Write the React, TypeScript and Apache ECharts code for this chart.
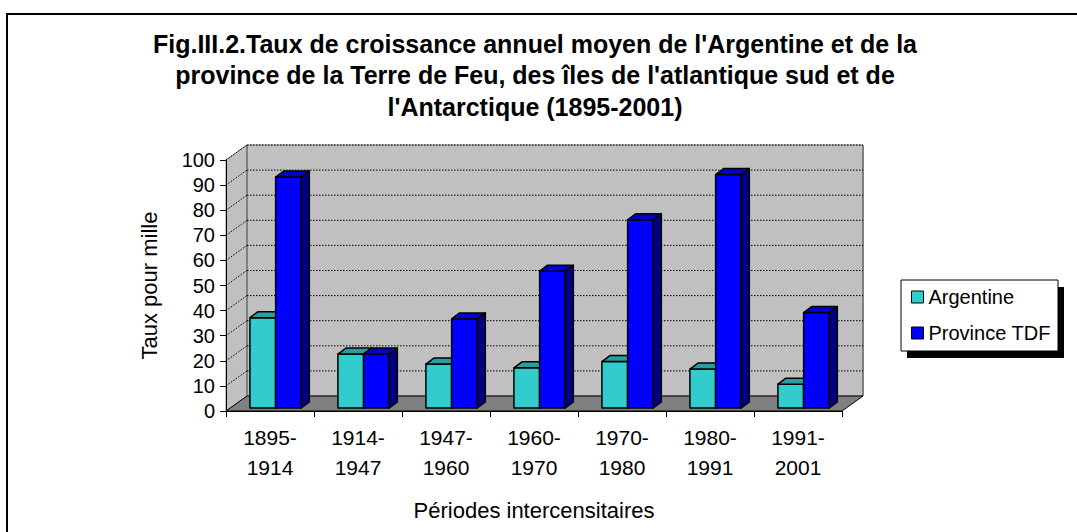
import React, { useEffect, useRef } from "react";
import * as echarts from "echarts";

const categories = ["1895-\n1914", "1914-\n1947", "1947-\n1960", "1960-\n1970", "1970-\n1980", "1980-\n1991", "1991-\n2001"];
const argentine = [36, 21.5, 17.5, 16, 18.5, 15.5, 9.5];
const provinceTDF = [92, 21.5, 35.5, 54.5, 75, 93, 38];
const seriesNames = ["Argentine", "Province TDF"];
const titleLines = [
  "Fig.III.2.Taux de croissance annuel moyen de l'Argentine et de la",
  "province de la Terre de Feu, des îles de l'atlantique sud et de",
  "l'Antarctique (1895-2001)",
];
const yAxisName = "Taux pour mille";
const xAxisName = "Périodes intercensitaires";
const Y_MIN = 0;
const Y_MAX = 100;
const Y_STEP = 10;

const FONT = "Liberation Sans";
const WALL_DX = 21;
const WALL_DY = -15;
const BAR_DX = 8;
const BAR_DY = -6;
const BAR_FRONT_DY = -3;

const colorsFront = ["#33CCCC", "#0000FF"];
const colorsTop = ["#2A9E9E", "#0000C8"];
const colorsSide = ["#1C6B6B", "#000080"];

export default function App() {
  const ref = useRef<HTMLDivElement>(null);
  useEffect(() => {
    if (!ref.current) return;
    const chart = echarts.init(ref.current, undefined, { renderer: "svg" });

    const wallRender = (params: any, api: any) => {
      const band = api.size([1, 0])[0];
      const p0 = api.coord([0, Y_MIN]);
      const left = p0[0] - band / 2;
      const right = api.coord([categories.length - 1, Y_MIN])[0] + band / 2;
      const y0 = p0[1];
      const yTop = api.coord([0, Y_MAX])[1];
      const children: any[] = [];
      children.push({
        type: "polygon",
        shape: { points: [[left, y0], [left, yTop], [left + WALL_DX, yTop + WALL_DY], [left + WALL_DX, y0 + WALL_DY]] },
        style: { fill: "#C0C0C0", stroke: "#808080", lineWidth: 1 },
      });
      children.push({
        type: "rect",
        shape: { x: left + WALL_DX, y: yTop + WALL_DY, width: right - left, height: y0 - yTop },
        style: { fill: "#C0C0C0", stroke: "#808080", lineWidth: 1 },
      });
      children.push({
        type: "line",
        shape: { x1: left + WALL_DX, y1: yTop + WALL_DY, x2: left + WALL_DX, y2: y0 + WALL_DY },
        style: { stroke: "#808080", lineWidth: 2 },
      });
      children.push({
        type: "line",
        shape: { x1: right + WALL_DX, y1: yTop + WALL_DY, x2: right + WALL_DX, y2: y0 + WALL_DY },
        style: { stroke: "#808080", lineWidth: 2 },
      });
      children.push({
        type: "polygon",
        shape: { points: [[left, y0], [right, y0], [right + WALL_DX, y0 + WALL_DY], [left + WALL_DX, y0 + WALL_DY]] },
        style: { fill: "#808080", stroke: "#000", lineWidth: 1 },
      });
      for (let v = Y_MIN + Y_STEP; v <= Y_MAX; v += Y_STEP) {
        const y = api.coord([0, v])[1];
        children.push({
          type: "line",
          shape: { x1: left + WALL_DX, y1: y + WALL_DY, x2: right + WALL_DX, y2: y + WALL_DY },
          style: { stroke: "#000", lineWidth: 1, lineDash: [1.5, 1.5] },
        });
        children.push({
          type: "line",
          shape: { x1: left, y1: y, x2: left + WALL_DX, y2: y + WALL_DY },
          style: { stroke: "#000", lineWidth: 1, lineDash: [1.5, 1.5] },
        });
      }
      return { type: "group", children };
    };

    const makeBarRender = (idx: number) => (params: any, api: any) => {
      const ci = api.value(0);
      const v = api.value(1);
      const band = api.size([1, 0])[0];
      const base = api.coord([ci, 0]);
      const top = api.coord([ci, v]);
      const w = band * 0.292;
      const x0 = base[0] - band * 0.228 + idx * w;
      const yb = base[1] + BAR_FRONT_DY;
      const yt = top[1] + BAR_FRONT_DY;
      const st = { stroke: "#000", lineWidth: 1.5, lineJoin: "round" };
      return {
        type: "group",
        children: [
          { type: "rect", shape: { x: x0, y: yt, width: w, height: yb - yt }, style: { ...st, fill: colorsFront[idx] } },
          {
            type: "polygon",
            shape: { points: [[x0, yt], [x0 + w, yt], [x0 + w + BAR_DX, yt + BAR_DY], [x0 + BAR_DX, yt + BAR_DY]] },
            style: { ...st, fill: colorsTop[idx] },
          },
          {
            type: "polygon",
            shape: { points: [[x0 + w, yt], [x0 + w + BAR_DX, yt + BAR_DY], [x0 + w + BAR_DX, yb + BAR_DY], [x0 + w, yb]] },
            style: { ...st, fill: colorsSide[idx] },
          },
        ],
      };
    };

    const option: any = {
      animation: false,
      textStyle: { fontFamily: FONT, color: "#000" },
      title: {
        text: titleLines.join("\n"),
        left: 530,
        top: 23,
        textAlign: "center",
        textStyle: { fontFamily: FONT, fontWeight: "bold", fontSize: 25, lineHeight: 31.5, color: "#000" },
      },
      grid: { left: 226, top: 160, width: 616, height: 251, containLabel: false },
      xAxis: {
        type: "category",
        data: categories,
        z: 5,
        axisLine: { show: true, lineStyle: { color: "#000", width: 1 } },
        axisTick: { show: true, length: 6, lineStyle: { color: "#000" } },
        axisLabel: { fontSize: 21, lineHeight: 30, margin: 11, color: "#000", fontFamily: FONT },
        name: xAxisName,
        nameLocation: "middle",
        nameGap: 88,
        nameTextStyle: { fontSize: 22, color: "#000", fontFamily: FONT },
      },
      yAxis: {
        type: "value",
        min: Y_MIN,
        max: Y_MAX,
        interval: Y_STEP,
        z: 5,
        axisLine: { show: true, lineStyle: { color: "#000", width: 1 } },
        axisTick: { show: true, length: 6, lineStyle: { color: "#000" } },
        axisLabel: { fontSize: 20, margin: 11, color: "#000", fontFamily: FONT },
        splitLine: { show: false },
        name: yAxisName,
        nameLocation: "middle",
        nameGap: 66,
        nameRotate: 90,
        nameTextStyle: { fontSize: 22, color: "#000", fontFamily: FONT },
      },
      legend: {
        orient: "vertical",
        left: 906,
        top: 281,
        itemWidth: 12,
        itemHeight: 12,
        itemGap: 14,
        z: 10,
        textStyle: { fontSize: 20, color: "#000", fontFamily: FONT, lineHeight: 22 },
        data: seriesNames.map((n, i) => ({
          name: n,
          icon: "rect",
          itemStyle: { color: colorsFront[i], borderColor: "#000", borderWidth: 1 },
        })),
      },
      graphic: [
        { type: "rect", z: 0, shape: { x: 7, y: 14, width: 1200, height: 700 }, style: { fill: "none", stroke: "#000", lineWidth: 2 } },
        { type: "rect", z: 1, shape: { x: 907, y: 287, width: 157, height: 71 }, style: { fill: "#000" } },
        { type: "rect", z: 2, shape: { x: 901, y: 280, width: 157, height: 71 }, style: { fill: "#fff", stroke: "#000", lineWidth: 1 } },
      ],
      series: [
        { type: "custom", name: "walls", z: 1, renderItem: wallRender, data: [[0, 0]], silent: true, legendHoverLink: false },
        {
          type: "custom",
          name: seriesNames[0],
          z: 3,
          renderItem: makeBarRender(0),
          itemStyle: { color: colorsFront[0] },
          data: argentine.map((v, i) => [i, v]),
        },
        {
          type: "custom",
          name: seriesNames[1],
          z: 3,
          renderItem: makeBarRender(1),
          itemStyle: { color: colorsFront[1] },
          data: provinceTDF.map((v, i) => [i, v]),
        },
      ],
    };
    chart.setOption(option);
    return () => chart.dispose();
  }, []);
  return <div ref={ref} style={{ position: "absolute", left: 0, top: 0, width: 1077, height: 532, background: "#fff" }} />;
}
